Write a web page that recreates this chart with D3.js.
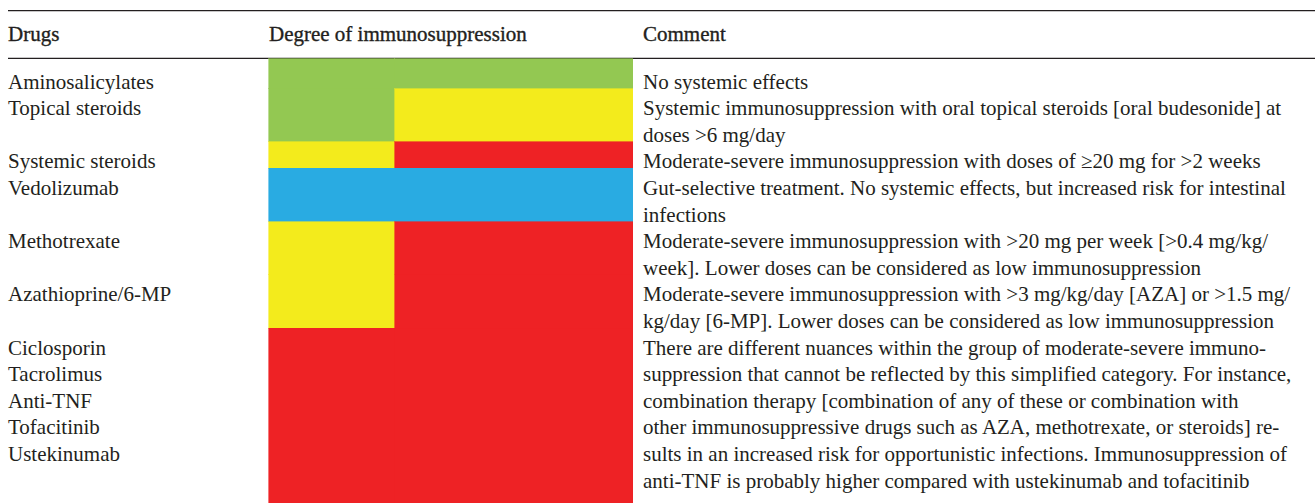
<!DOCTYPE html>
<html>
<head>
<meta charset="utf-8">
<script src="https://cdn.jsdelivr.net/npm/d3@7"></script>
<style>
  html, body { margin: 0; padding: 0; background: #fff; }
  svg { display: block; }
  text { font-family: "Liberation Serif", "Times New Roman", serif; fill: #231f20; }
</style>
</head>
<body>
<svg id="chart" width="1315" height="503"></svg>
<script>
// ---- data ----
const headers = ["Drugs", "Degree of immunosuppression", "Comment"];

const drugs = ["Aminosalicylates", "Topical steroids", "Systemic steroids", "Vedolizumab",
  "Methotrexate", "Azathioprine/6-MP", "Ciclosporin", "Tacrolimus", "Anti-TNF",
  "Tofacitinib", "Ustekinumab"];
const drugLine = [1, 2, 4, 5, 7, 9, 11, 12, 13, 14, 15];

const levels = ["none", "low", "moderate-severe", "gut-selective"];
const levelColors = ["#93c852", "#f3eb1c", "#ee2225", "#29abe2"];

// bands of the degree column: number of text lines spanned, left and right level
const bandLines = [1, 2, 1, 2, 2, 2, 6];
const bandLeft  = ["none", "none", "low", "gut-selective", "low", "low", "moderate-severe"];
const bandRight = ["none", "low", "moderate-severe", "gut-selective", "moderate-severe", "moderate-severe", "moderate-severe"];

const commentLines = [
  "No systemic effects",
  "Systemic immunosuppression with oral topical steroids [oral budesonide] at",
  "doses >6 mg/day",
  "Moderate-severe immunosuppression with doses of \u226520 mg for >2 weeks",
  "Gut-selective treatment. No systemic effects, but increased risk for intestinal",
  "infections",
  "Moderate-severe immunosuppression with >20 mg per week [>0.4 mg/kg/",
  "week]. Lower doses can be considered as low immunosuppression",
  "Moderate-severe immunosuppression with >3 mg/kg/day [AZA] or >1.5 mg/",
  "kg/day [6-MP]. Lower doses can be considered as low immunosuppression",
  "There are different nuances within the group of moderate-severe immuno-",
  "suppression that cannot be reflected by this simplified category. For instance,",
  "combination therapy [combination of any of these or combination with",
  "other immunosuppressive drugs such as AZA, methotrexate, or steroids] re-",
  "sults in an increased risk for opportunistic infections. Immunosuppression of",
  "anti-TNF is probably higher compared with ustekinumab and tofacitinib"
];

// ---- layout ----
const W = 1315, H = 503;
const svg = d3.select("#chart");
const fontSize = 21;
const colX = [8, 269, 643];
const ruleTop = 10.7, ruleHead = 58.3;

const yLine = d3.scaleLinear().domain([1, 16]).range([88.6, 487.6]);
const xDeg = d3.scaleLinear().domain([0, 1]).range([268.5, 632.5]);
const split = 0.3462;
const color = d3.scaleOrdinal().domain(levels).range(levelColors);

// rules
svg.selectAll("line.rule").data([ruleTop, ruleHead]).join("line")
  .attr("class", "rule")
  .attr("x1", 8).attr("x2", W)
  .attr("y1", d => d).attr("y2", d => d)
  .attr("stroke", "#231f20").attr("stroke-width", 1.3);

// headers
svg.selectAll("text.head").data(headers).join("text")
  .attr("class", "head")
  .attr("x", (d, i) => colX[i]).attr("y", 40.5)
  .attr("font-size", fontSize)
  .style("stroke", "#231f20").style("stroke-width", 0.35)
  .text(d => d);

// bands
let cum = 0;
const bands = bandLines.map((n, i) => {
  const top = i === 0 ? ruleHead + 0.3 : yLine(cum);
  cum += n;
  const bottom = i === bandLines.length - 1 ? H : yLine(cum);
  return { top, bottom, left: bandLeft[i], right: bandRight[i] };
});
const cells = [];
bands.forEach(b => {
  cells.push({ x0: 0, x1: split, top: b.top, bottom: b.bottom, level: b.left });
  cells.push({ x0: split, x1: 1, top: b.top, bottom: b.bottom, level: b.right });
});
svg.selectAll("rect.cell").data(cells).join("rect")
  .attr("class", "cell")
  .attr("x", d => xDeg(d.x0))
  .attr("width", d => xDeg(d.x1) - xDeg(d.x0))
  .attr("y", d => d.top)
  .attr("height", d => d.bottom - d.top)
  .attr("fill", d => color(d.level))
  .attr("stroke", d => color(d.level)).attr("stroke-width", 0.6)
  .attr("shape-rendering", "crispEdges");

// drug names
svg.selectAll("text.drug").data(drugs).join("text")
  .attr("class", "drug")
  .attr("x", colX[0]).attr("y", (d, i) => yLine(drugLine[i]))
  .attr("font-size", fontSize)
  .text(d => d);

// comments
svg.selectAll("text.comment").data(commentLines).join("text")
  .attr("class", "comment")
  .attr("x", colX[2]).attr("y", (d, i) => yLine(i + 1))
  .attr("font-size", fontSize)
  .text(d => d);
</script>
</body>
</html>
